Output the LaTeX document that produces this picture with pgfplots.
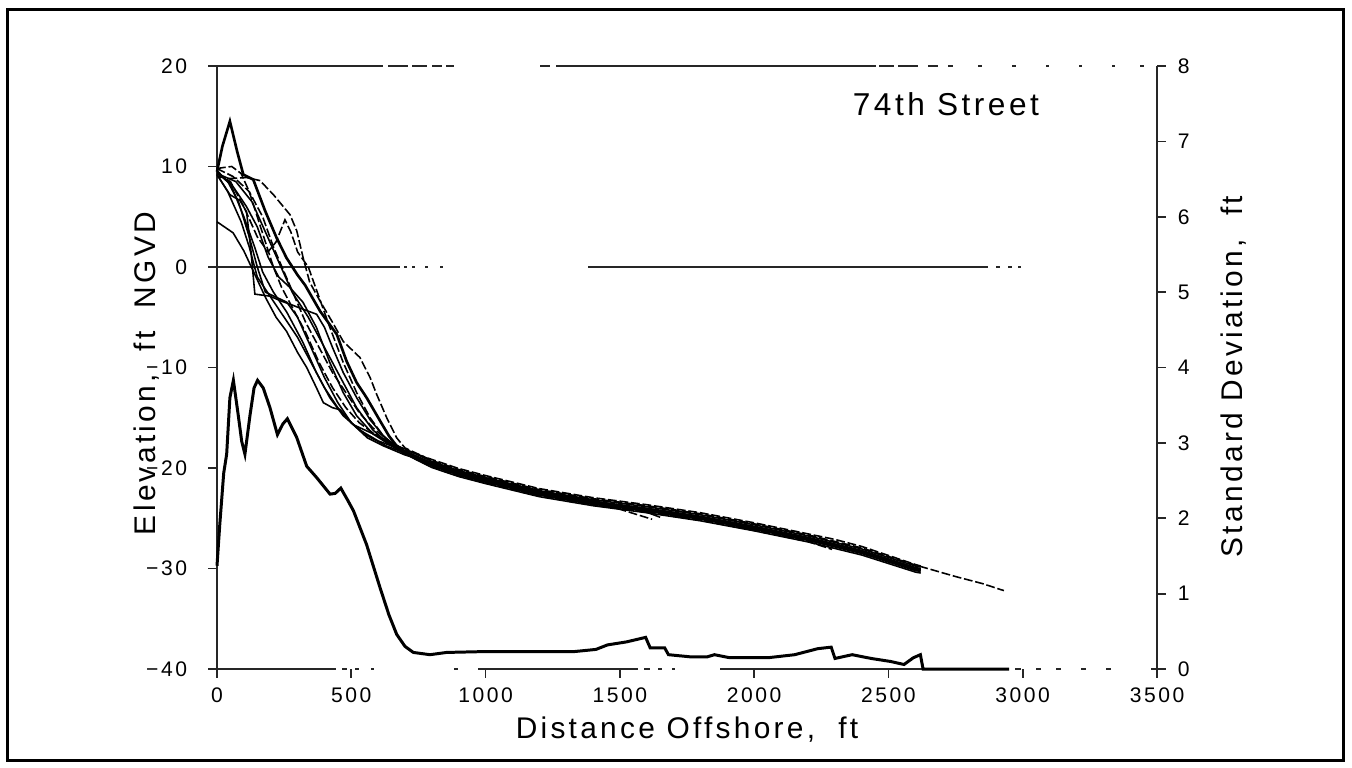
\documentclass[border=0pt]{standalone}
\usepackage{fontspec}
\setmainfont{Liberation Sans}[LetterSpace=11]
\newfontfamily\tickfont{Liberation Sans}[LetterSpace=12]
\usepackage{pgfplots}
\pgfplotsset{compat=1.18}

\pgfplotsset{
  prof/.style={black, line width=0.45pt},
  profd/.style={black, line width=0.45pt, dash pattern=on 2.5pt off 0.8pt},
  frame/.style={scale only axis, width=9.4cm, height=6.03cm, xmin=0, xmax=3500,
    tick align=outside, major tick length=0.85mm,
    tick style={black!85, line width=0.5pt},
    axis line style={-, black!85, line width=0.6pt},
    /pgf/number format/assume math mode=true,
    /pgf/number format/1000 sep={},
    ticklabel style={font=\tickfont\fontsize{6}{7}\selectfont},
    label style={font=\fontsize{8.5}{10}\selectfont},
    clip=false},
}

\begin{document}
\begin{tikzpicture}
\begin{axis}[
  frame,
  ymin=-40, ymax=20,
  axis x line*=bottom, axis y line*=left,
  x axis line style={dash pattern=on 11.9mm off 0.6mm on 0.5mm off 0.8mm on 0.4mm off 1.2mm on 0.3mm off 8mm on 0.4mm off 2mm on 16mm off 0.6mm on 0.6mm off 0.8mm on 0.4mm off 1mm on 0.3mm off 4.5mm on 28.5mm off 1mm on 0.6mm off 1.5mm on 0.5mm off 1.5mm on 0.5mm off 2mm on 0.5mm off 2mm on 0.5mm off 4mm on 1mm},
  xtick={0,500,...,3500}, ytick={-40,-30,...,20},
  yticklabels={−40,−30,−20,−10,0,10,20},
  yticklabel style={xshift=-0.9mm},
  xticklabel style={yshift=0.2mm},
  xlabel={Distance Offshore,~~ft},
  ylabel={Elevation,~~ft~~NGVD},
  xlabel style={at={(axis description cs:0.5,-0.1)}, anchor=center},
  ylabel style={at={(axis description cs:-0.075,0.49)}, anchor=center},
]
% top border and zero line, broken like the scan
\draw[black!85, line width=0.6pt, dash pattern=on 16.6mm off 0.5mm on 2mm off 0.4mm on 1.5mm off 0.5mm on 1mm off 0.4mm on 0.8mm off 8.6mm on 1mm off 0.6mm on 32mm off 0.3mm on 1.5mm off 0.4mm on 2mm off 1mm on 1mm off 1mm on 0.5mm off 2.5mm on 0.4mm off 3mm on 0.4mm off 3mm on 0.3mm off 3mm on 0.3mm off 3mm on 0.3mm off 2.5mm on 0.4mm off 1.3mm]
  (axis cs:0,20) -- (axis cs:3500,20);
\draw[black!85, line width=0.5pt, dash pattern=on 18.3mm off 0.4mm on 0.3mm off 0.5mm on 0.3mm off 1mm on 0.3mm off 1.2mm on 0.3mm off 14.5mm on 40mm off 0.8mm on 0.4mm off 0.8mm on 0.4mm off 0.6mm on 0.3mm]
  (axis cs:0,0) -- (axis cs:2994,0);

% profiles
\addplot[black, line width=0.75pt] coordinates {
 (0,9.5) (20,12) (48,14.5) (75,11.5) (98,9.2) (135,8.7) (179,5.6) (222,2.9)
 (259,0.9) (300,-0.8) (328,-1.8) (384,-4.4) (446,-6.7) (483,-9.4) (520,-11.5)
 (557,-13) (607,-15.3) (640,-16.8) (669,-17.8) (700,-18.4)
 (800,-19.6) (900,-20.5) (1000,-21.2) (1200,-22.5) (1400,-23.4) (1600,-24.1)
 (1800,-24.9) (2000,-25.9) (2200,-27.0) (2400,-28.3) (2600,-30.0) (2620,-30.1)};
\addplot[prof] coordinates {
 (0,9.2) (48,7.2) (86,6.6) (110,5.5) (125,2) (141,-2.7) (197,-2.9) (240,-3.4)
 (272,-3.7) (320,-4.2) (371,-4.7) (400,-6) (430,-8) (470,-10.5) (520,-13)
 (570,-15.2) (620,-16.8) (660,-17.7) (700,-18.1)
 (800,-19.35) (900,-20.25) (1000,-20.95) (1200,-22.25) (1400,-23.15) (1600,-23.85)
 (1800,-24.65) (2000,-25.65) (2200,-26.75) (2400,-28.05) (2600,-29.75) (2620,-29.85)};
\addplot[profd] coordinates {
 (0,9.8) (25,9.9) (55,10) (90,9.3) (120,7.5) (150,5) (180,2.5) (210,0) (240,-2)
 (280,-4) (330,-6.5) (380,-9.5) (430,-12) (480,-14) (530,-15.5) (580,-16.5)
 (640,-17.5) (700,-18.6)
 (800,-19.75) (900,-20.65) (1000,-21.35) (1200,-22.65) (1400,-23.55) (1500,-24.1) (1620,-25.1)};
\addplot[profd] coordinates {
 (0,9.0) (50,8.8) (110,8.9) (160,8.6) (210,7.2) (272,5.2) (297,3.6) (321,0.9)
 (345,-1.5) (384,-3.4) (430,-5.5) (470,-7.4) (532,-9.0) (570,-11) (595,-12.7)
 (632,-15) (669,-17) (700,-18.0)
 (800,-19.25) (900,-20.15) (1000,-20.85) (1200,-22.15) (1400,-23.05) (1600,-23.75)
 (1800,-24.55) (2000,-25.55) (2200,-26.65) (2400,-27.95) (2600,-29.65) (2620,-29.8)
 (2750,-30.8) (2850,-31.5) (2930,-32.2)};
\addplot[profd] coordinates {
 (0,9.3) (50,8.5) (100,6) (150,3) (190,1.5) (220,2.5) (253,4.7) (275,3.5) (300,1.5)
 (340,0) (380,-3) (420,-6) (470,-9.5) (520,-12.5) (570,-15) (630,-17.2) (700,-18.6)
 (800,-19.9) (900,-20.8) (1000,-21.5) (1200,-22.8) (1400,-23.7) (1600,-24.4)
 (1800,-25.2) (2000,-26.2) (2200,-27.3) (2290,-28.1)};
\addplot[prof] coordinates {
 (0,4.5) (60,3.4) (100,1.6) (135,-0.4) (180,-3) (220,-5) (259,-6.4) (300,-8.5)
 (334,-10) (370,-12) (396,-13.5) (430,-14) (458,-14.2) (508,-15.7) (557,-16.3)
 (605,-16.9) (655,-17.6) (700,-18.3)
 (800,-19.7) (900,-20.6) (1000,-21.3) (1200,-22.6) (1400,-23.5) (1600,-24.2)
 (1800,-25.0) (2000,-26.0) (2200,-27.1) (2400,-28.4) (2600,-30.1) (2620,-30.2)};
\addplot[prof] coordinates {
 (0,9.6) (40,8.5) (80,6.5) (120,3) (150,0) (180,-2.5) (220,-3) (260,-3.5) (300,-5)
 (350,-8) (400,-11) (450,-13.5) (500,-15.5) (560,-17) (620,-17.8) (700,-18.7)
 (800,-19.45) (900,-20.35) (1000,-21.05) (1200,-22.35) (1400,-23.25) (1580,-24.2) (1650,-24.9)};
\addplot[prof] coordinates {
 (0,9.4) (60,8) (110,6) (150,4) (190,1) (230,-1) (270,-2) (320,-3.5) (370,-6)
 (420,-9.5) (470,-12.5) (520,-14.8) (580,-16.6) (650,-17.8) (700,-18.6)
 (800,-19.95) (900,-20.85) (1000,-21.55) (1200,-22.85) (1400,-23.75) (1600,-24.45)
 (1800,-25.25) (2000,-26.25) (2200,-27.35) (2400,-28.65) (2600,-30.35) (2620,-30.45)};
\addplot[prof] coordinates {
 (0,9.5) (50,8.3) (100,5) (140,2) (170,-0.5) (210,-2.5) (260,-4.5) (320,-7.5)
 (370,-10.5) (420,-13) (470,-14.8) (530,-16.2) (600,-17.3) (700,-18.3)
 (800,-19.5) (900,-20.4) (1000,-21.1) (1200,-22.4) (1400,-23.3) (1600,-24.0)
 (1800,-24.8) (2000,-25.8) (2200,-26.9) (2400,-28.2) (2600,-29.9) (2620,-30.0)};
\addplot[prof] coordinates {
 (0,9.2) (40,7.5) (90,4.5) (120,2) (150,-1) (200,-3) (250,-5) (300,-7) (350,-9.5)
 (400,-12) (450,-14) (500,-15.5) (560,-16.8) (630,-17.8) (700,-18.5)
 (800,-19.8) (900,-20.7) (1000,-21.4) (1200,-22.7) (1400,-23.6) (1600,-24.3)
 (1800,-25.1) (2000,-26.1) (2200,-27.2) (2400,-28.5) (2600,-30.2) (2620,-30.3)};
\addplot[profd] coordinates {
 (0,9.8) (60,9) (120,7.5) (170,5) (210,2) (250,-0.5) (290,-3) (330,-5.5) (380,-8)
 (430,-10.5) (480,-12.5) (530,-14.5) (580,-16) (640,-17.3) (700,-18.2)
 (800,-19.15) (900,-20.05) (1000,-20.75) (1200,-22.05) (1400,-22.95) (1600,-23.65)
 (1800,-24.45) (2000,-25.45) (2200,-26.55) (2300,-27.1) (2400,-27.8) (2500,-28.7)
 (2600,-29.6) (2620,-29.75)};
\addplot[prof] coordinates {
 (0,9.3) (70,8.5) (130,6.5) (180,3.5) (230,0.5) (280,-2.5) (340,-5) (400,-8)
 (460,-11) (520,-14) (580,-16.2) (640,-17.6) (700,-18.4)
 (800,-19.65) (900,-20.55) (1000,-21.25) (1200,-22.55) (1400,-23.45) (1600,-24.15)
 (1800,-24.95) (2000,-25.95) (2200,-27.05) (2400,-28.35) (2600,-30.05) (2620,-30.15)};

\node[font=\fontsize{9}{10}\selectfont] at (axis cs:2714,16.2) {74th Street};
\end{axis}

\begin{axis}[
  frame,
  ymin=0, ymax=8,
  axis x line=none, axis y line*=right,
  ytick={0,1,...,8},
  ylabel={Standard Deviation,~~ft},
  ylabel style={at={(axis description cs:1.081,0.485)}, anchor=center, rotate=0},
]
\addplot[black, line width=0.85pt] table {
x sd
0 1.37
10 1.9
25 2.6
36 2.85
48 3.6
61 3.83
79 3.37
92 3.02
104 2.85
123 3.37
138 3.73
151 3.83
172 3.73
197 3.47
225 3.11
245 3.25
262 3.32
297 3.07
334 2.69
371 2.54
421 2.32
440 2.33
461 2.40
485 2.25
508 2.10
557 1.65
607 1.08
640 0.72
669 0.46
700 0.30
731 0.22
793 0.19
855 0.22
979 0.23
1240 0.23
1326 0.23
1411 0.26
1454 0.32
1525 0.36
1596 0.42
1613 0.28
1667 0.28
1681 0.19
1767 0.16
1824 0.16
1852 0.19
1909 0.15
2052 0.15
2151 0.19
2237 0.27
2287 0.29
2301 0.14
2365 0.19
2436 0.14
2508 0.10
2558 0.06
2593 0.15
2619 0.19
2629 0
2949 0
};
\end{axis}

\draw[black, line width=0.3mm] (-2.09cm,-0.91cm) rectangle (11.26cm,6.60cm);
\path (-2.17cm,-0.98cm) rectangle (11.35cm,6.69cm);
\end{tikzpicture}
\end{document}
